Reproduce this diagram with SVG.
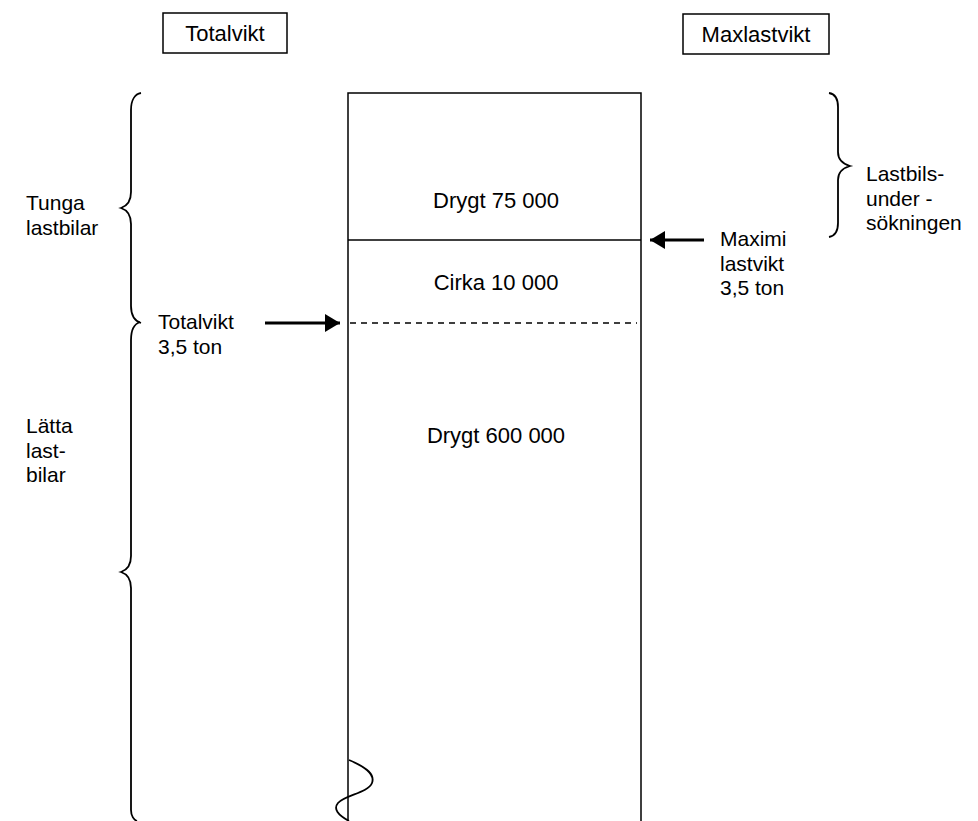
<svg xmlns="http://www.w3.org/2000/svg" width="978" height="821" viewBox="0 0 978 821">
<style>
text{font-family:"Liberation Sans",Arial,sans-serif;font-size:22px;fill:#000}
.m{font-size:21px}
.ln{stroke:#000;stroke-width:1.5;fill:none}
.br{stroke:#000;stroke-width:1.8;fill:none}
.ar{stroke:#000;stroke-width:3;fill:none}
.c{text-anchor:middle}
</style>
<defs>
<marker id="ah" markerWidth="6" markerHeight="6" refX="5" refY="3" orient="auto" markerUnits="strokeWidth">
<path d="M0,0 L5,3 L0,6 Z" fill="#000"/>
</marker>
</defs>
<g id="hdr-total"><rect x="163" y="13" width="124" height="40" class="ln"/><text x="225" y="41" class="c">Totalvikt</text></g>
<g id="hdr-max"><rect x="683" y="14" width="146" height="40" class="ln"/><text x="756" y="42" class="c">Maxlastvikt</text></g>
<g id="column">
<path d="M348,821 V93 H641 V821" class="ln"/>
<text x="496" y="208" class="c">Drygt 75 000</text>
<text x="496" y="290" class="c">Cirka 10 000</text>
<text x="496" y="443" class="c">Drygt 600 000</text>
<path d="M349,760 C368,768 375,775 372,783 C368,793 345,795 338,803 C333,809 338,815 349,821" class="br"/>
</g>
<g id="connectors">
<line x1="348" y1="240" x2="641" y2="240" class="ln"/>
<line x1="350" y1="323" x2="637" y2="323" class="ln" stroke-dasharray="6,5"/>
<line x1="265" y1="323" x2="340" y2="323" class="ar" marker-end="url(#ah)"/>
<line x1="704" y1="240" x2="650" y2="240" class="ar" marker-end="url(#ah)"/>
</g>
<g id="brace-tunga">
<path d="M141,93 C135,94 131,100 131,110 V192 C131,202 127,206 121,208 C127,210 131,214 131,224 V306 C131,316 135,321 141,323" class="br"/>
<text x="26" y="210" class="m">Tunga<tspan x="26" dy="24.5">lastbilar</tspan></text>
</g>
<g id="brace-latta">
<path d="M140,322 C134,324 131,330 131,340 V556 C131,566 127,570 121,572 C127,574 131,578 131,588 V810 C131,816 134,820 137,821" class="br"/>
<text x="26" y="433" class="m">Lätta<tspan x="26" dy="24.5">last-</tspan><tspan x="26" dy="24.5">bilar</tspan></text>
</g>
<g id="lbl-totalvikt"><text x="158" y="329" class="m">Totalvikt<tspan x="158" dy="24.5">3,5 ton</tspan></text></g>
<g id="lbl-maximi"><text x="720" y="246" class="m">Maximi<tspan x="720" dy="24.5">lastvikt</tspan><tspan x="720" dy="24.5">3,5 ton</tspan></text></g>
<g id="brace-under">
<path d="M829,93 C835,94 838,99 838,107 V152 C838,160 843,164 850,166 C843,168 838,172 838,180 V223 C838,231 835,236 829,237" class="br"/>
<text x="866" y="181" class="m">Lastbils-<tspan x="866" dy="24.5">under -</tspan><tspan x="866" dy="24.5">sökningen</tspan></text>
</g>
</svg>
